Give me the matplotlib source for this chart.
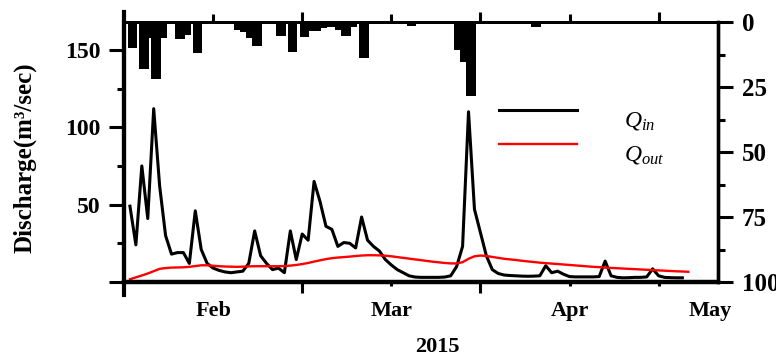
import matplotlib
matplotlib.use('Agg')
from matplotlib import pyplot as plt
import numpy as np

plt.rcParams['font.family'] = ['Liberation Serif', 'DejaVu Serif']
plt.rcParams['font.weight'] = 'bold'
plt.rcParams['mathtext.fontset'] = 'custom'
plt.rcParams['mathtext.it'] = 'Liberation Serif:italic:normal'
plt.rcParams['mathtext.rm'] = 'Liberation Serif:normal'

# days counted from 15 Jan 2015
q_in = [49, 24, 75, 41, 112, 62, 30, 18, 19, 19, 12, 46, 21, 12, 9, 7.5, 6.5, 6, 6.5, 7,
        12, 33, 17, 12, 8, 9, 6, 33, 14.5, 31, 27, 65, 52, 36, 34, 23, 25.5, 25, 22, 42,
        27, 23, 20, 14.5, 11, 8, 6, 4, 3.2, 3, 3, 3, 3, 3.2, 4, 10, 23, 110, 47, 32,
        17, 8, 5.5, 4.5, 4.2, 4, 3.8, 3.7, 3.8, 4, 10.5, 6, 7, 5, 3.5, 3.3, 3.3, 3.3, 3.3, 3.5,
        13.5, 4, 3, 2.7, 2.8, 3, 3, 3.3, 8.5, 4, 3, 2.8, 2.7, 2.7]
q_out = [1.8, 3, 4.2, 5.5, 7, 8.5, 9, 9.3, 9.4, 9.5, 9.8, 10.3, 10.8, 10.8, 10.5, 10.2, 10, 9.9, 9.8, 9.9,
         10.1, 10.2, 10.2, 10.2, 10.2, 10.2, 10.3, 10.6, 11, 11.6, 12.3, 13.2, 14, 14.8, 15.4, 15.8, 16.1, 16.4, 16.8, 17.1,
         17.3, 17.3, 17.2, 17, 16.6, 16.1, 15.6, 15.1, 14.6, 14.1, 13.6, 13.1, 12.7, 12.3, 12, 12, 12.8, 15, 16.6, 17.1,
         16.8, 16.2, 15.6, 15, 14.6, 14.2, 13.7, 13.3, 12.9, 12.5, 12.2, 11.9, 11.6, 11.3, 11, 10.7, 10.4, 10.1, 9.8, 9.6,
         9.3, 9.1, 8.9, 8.7, 8.5, 8.3, 8.1, 7.9, 7.7, 7.5, 7.3, 7.1, 6.9, 6.8, 6.6]
rain_day = [1, 3, 4, 5, 6, 9, 10, 12, 19, 20, 21, 22, 26, 28, 30, 31, 32, 33, 34, 35,
            36, 37, 38, 40, 48, 56, 57, 58, 69, 92]
rain_mm = [9.9, 18, 6, 22, 6, 6.5, 5, 12, 3, 3.7, 6, 9.1, 5.3, 11.4, 5.6, 3.5, 3.5, 2.4, 1.8, 1.8,
           3, 5.3, 1.8, 13.7, 1.4, 10.8, 15.3, 28.3, 1.8, 0.8]
month_names = ['Feb', 'Mar', 'Apr', 'May']
month_days = [15, 45, 75, 98.7]

day_in = np.arange(1, len(q_in) + 1)
day_out = np.arange(1, len(q_out) + 1)

fig = plt.figure(figsize=(7.76, 3.58), dpi=100)
ax = fig.add_axes([124 / 776, 1 - 282 / 358, 594 / 776, 260 / 358])

ax.plot(day_in, q_in, 'k-', lw=2.2, label='$Q_{in}$')
ax.plot(day_out, q_out, 'r-', lw=1.7, label='$Q_{out}$')
ax.set_xlim(0, 100)
ax.set_ylim(0, 168)

ax.set_yticks([0, 50, 100, 150], ['', '50', '100', '150'])
ax.set_yticks([25, 75, 125], minor=True)
ax.tick_params(axis='y', which='major', length=11, width=2.2, labelsize=17, pad=6)
ax.tick_params(axis='y', which='minor', length=5, width=2.2)

ax.set_xticks([30, 60], ['', ''])
ax.set_xticks([45, 75, 90], minor=True)
ax.tick_params(axis='x', which='major', length=8, width=2.2)
ax.tick_params(axis='x', which='minor', length=3, width=2.2)
for name, d in zip(month_names, month_days):
    ax.text(d, -0.112, name, transform=ax.get_xaxis_transform(), ha='center', va='center',
            fontsize=16, fontweight='bold')

top = ax.secondary_xaxis('top')
top.set_xticks([30, 60, 90], ['', '', ''])
top.set_xticks([15, 45, 75], minor=True)
top.tick_params(which='major', length=7, width=2.2)
top.tick_params(which='minor', length=5.5, width=2.2)
top.spines['top'].set_linewidth(2)

ax.spines['bottom'].set_linewidth(3.2)
ax.spines['left'].set_linewidth(3)
ax.spines['top'].set_linewidth(2)
ax.spines['right'].set_linewidth(2.4)
ax.plot([0, 0], [-0.05, 1.04], color='k', lw=3, transform=ax.transAxes, clip_on=False)

leg = ax.legend(loc='upper left', bbox_to_anchor=(0.612, 0.74), frameon=False,
                prop={'size': 17, 'weight': 'normal'},
                handlelength=3.3, handletextpad=2.0, labelspacing=0.5, borderpad=0)
# legend labels sit a little below their lines
for t in leg.get_texts():
    t.set_va('center_baseline')

# rainfall hangs from the top on an inverted right axis
ax2 = ax.twinx()
ax2.bar(np.array(rain_day) - 0.4, rain_mm, width=1.6, align='edge', color='k', lw=0)
ax2.set_ylim(100, 0)
ax2.set_yticks([0, 25, 50, 75, 100])
ax2.set_yticks([12.5, 37.5, 62.5, 87.5], minor=True)
ax2.tick_params(axis='y', which='major', length=11, width=2.2, labelsize=18, pad=6)
ax2.tick_params(axis='y', which='minor', length=5, width=2.2)
for s in ax2.spines.values():
    s.set_visible(False)
ax2.spines['right'].set_visible(True)
ax2.spines['right'].set_linewidth(2.4)

fig.text(25 / 776, 1 - 158 / 358, 'Discharge(m³/sec)', rotation=90, ha='center', va='center',
         fontsize=18, fontweight='bold')
fig.text(437 / 776, 1 - 347 / 358, '2015', ha='center', va='center', fontsize=16, fontweight='bold')

fig.savefig('out.png', dpi=100)
